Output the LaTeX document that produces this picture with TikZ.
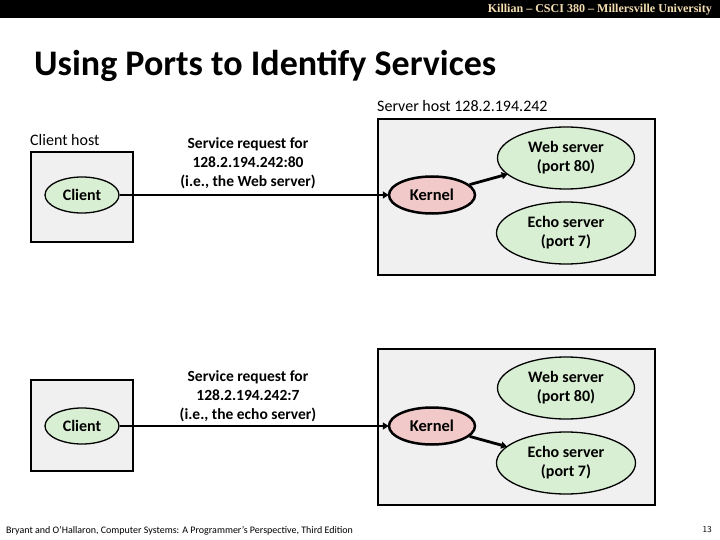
\documentclass[tikz,border=0pt]{standalone}
\usepackage{fontspec}
\setmainfont{Carlito}
\newfontfamily\hdrfont{Liberation Serif}
\usetikzlibrary{shapes.geometric,arrows.meta}
\definecolor{boxgray}{HTML}{F0F0F0}
\definecolor{procgreen}{HTML}{D9EFD3}
\definecolor{kernpink}{HTML}{F2C9C9}
\definecolor{hdrtext}{HTML}{F3DDB0}
\tikzset{
  hostbox/.style={draw=black, line width=2pt, fill=boxgray},
  proc/.style={ellipse, draw=black, line width=1.3pt, fill=procgreen, inner sep=0pt, font=\bfseries\fontsize{16}{19}\selectfont, align=center},
  kern/.style={ellipse, draw=black, line width=2.5pt, fill=kernpink, inner sep=0pt, font=\bfseries\fontsize{16.5}{19}\selectfont},
  lbl/.style={font=\fontsize{16}{18}\selectfont, inner sep=0pt},
  req/.style={font=\bfseries\fontsize{15.5}{19}\selectfont, align=center, inner sep=0pt},
  conn/.style={line width=2.8pt, -{Triangle[length=6pt,width=7pt]}, shorten >=-1pt}
}
\begin{document}
\begin{tikzpicture}[x=1pt,y=-1pt]
\useasboundingbox (0,0) rectangle (720,540);
% header
\fill[black] (0,0) rectangle (720,18);
\node[anchor=east, inner sep=0pt, text=hdrtext] (hdr) at (712,9.5) {\resizebox{224pt}{!}{\hdrfont\bfseries Killian \textendash{} CSCI 380 \textendash{} Millersville University}};
% title
\node[anchor=west, inner sep=0pt, font=\bfseries\fontsize{36}{40}\selectfont] (title) at (34,66) {Using Ports to Identify Services};

% ---------- first scenario ----------
\node[hostbox, minimum width=102pt, minimum height=90pt, anchor=north west, inner sep=0pt] (ch1) at (30,151) {};
\node[lbl, anchor=south west] (ch1l) at (30,146) {Client host};
\node[proc, minimum width=74pt, minimum height=36pt] (c1) at (82,195) {Client};
\node[hostbox, minimum width=277pt, minimum height=156pt, anchor=north west, inner sep=0pt] (sh1) at (377,118) {};
\node[lbl, anchor=south west] (sh1l) at (377,112) {Server host 128.2.194.242};
\node[kern, minimum width=86pt, minimum height=37pt] (k1) at (432,195) {Kernel};
\node[proc, minimum width=137pt, minimum height=62pt] (w1) at (566,158) {Web server\\(port 80)};
\node[proc, minimum width=139pt, minimum height=62pt] (e1) at (566,233) {Echo server\\(port 7)};
\node[req] (r1) at (248,163) {Service request for\\128.2.194.242:80\\(i.e., the Web server)};
\draw[conn] (c1.east) -- (k1.west);
\draw[conn] (k1) -- (w1);

% ---------- second scenario ----------
\node[hostbox, minimum width=102pt, minimum height=91pt, anchor=north west, inner sep=0pt] (ch2) at (30,379) {};
\node[proc, minimum width=74pt, minimum height=36pt] (c2) at (82,426) {Client};
\node[hostbox, minimum width=277pt, minimum height=156pt, anchor=north west, inner sep=0pt] (sh2) at (377,348) {};
\node[kern, minimum width=86pt, minimum height=37pt] (k2) at (432,426) {Kernel};
\node[proc, minimum width=137pt, minimum height=62pt] (w2) at (566,388) {Web server\\(port 80)};
\node[proc, minimum width=139pt, minimum height=62pt] (e2) at (566,463) {Echo server\\(port 7)};
\node[req] (r2) at (248,396) {Service request for\\128.2.194.242:7\\(i.e., the echo server)};
\draw[conn] (c2.east) -- (k2.west);
\draw[conn] (k2) -- (e2);

% footer
\node[anchor=west, inner sep=0pt, font=\fontsize{10}{12}\selectfont] (foot) at (6,531) {Bryant and O'Hallaron, Computer Systems: A Programmer's Perspective, Third Edition};
\node[anchor=east, inner sep=0pt, font=\sffamily\fontsize{9}{10}\selectfont] (pg) at (712,530) {13};
\end{tikzpicture}
\end{document}
